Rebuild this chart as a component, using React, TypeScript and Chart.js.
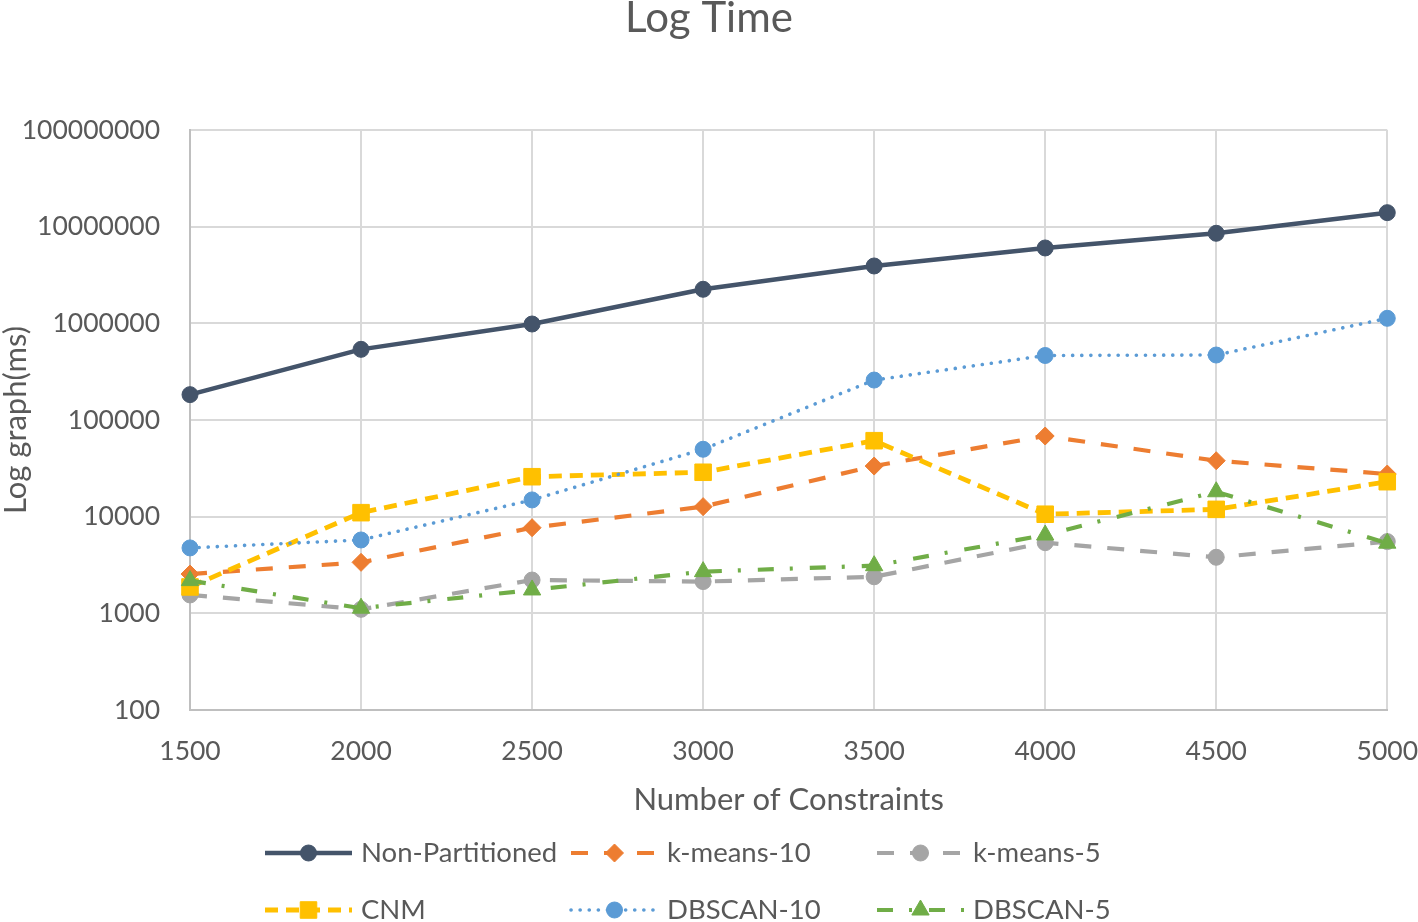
import React, { useEffect, useRef } from 'react';
import { Chart, registerables } from 'chart.js';

Chart.register(...registerables);

// ---- Data ----
const categories = ['1500', '2000', '2500', '3000', '3500', '4000', '4500', '5000'];
const nonPartitioned = [183000, 538000, 984000, 2250000, 3920000, 6020000, 8540000, 13960000];
const kMeans10 = [2550, 3370, 7690, 12700, 33400, 68300, 37900, 27600];
const kMeans5 = [1550, 1100, 2210, 2130, 2390, 5380, 3800, 5520];
const cnm = [1875, 11000, 25900, 28800, 61100, 10600, 11900, 23000];
const dbscan10 = [4750, 5740, 14900, 49800, 259000, 465000, 470000, 1127000];
const dbscan5 = [2180, 1130, 1745, 2700, 3110, 6460, 18100, 5320];
const yTicks = [100, 1000, 10000, 100000, 1000000, 10000000, 100000000];

const seriesNames = ['Non-Partitioned', 'k-means-10', 'k-means-5', 'CNM', 'DBSCAN-10', 'DBSCAN-5'];
const seriesData = [nonPartitioned, kMeans10, kMeans5, cnm, dbscan10, dbscan5];

const FONT = 'Lato, "Open Sans", sans-serif';
const TEXT = '#595959';

type Style = {
  color: string;
  width: number;
  dash: number[];
  cap: CanvasLineCap;
  point: string;
  radius: number;
};

const styles: Style[] = [
  { color: '#44546A', width: 4.5, dash: [], cap: 'butt', point: 'circle', radius: 8.5 },
  { color: '#ED7D31', width: 4.2, dash: [17, 16], cap: 'butt', point: 'rectRot', radius: 9.5 },
  { color: '#A5A5A5', width: 4.2, dash: [17, 16], cap: 'butt', point: 'circle', radius: 8.5 },
  { color: '#FFC000', width: 4.8, dash: [13, 8], cap: 'butt', point: 'rect', radius: 12.2 },
  { color: '#5B9BD5', width: 3.6, dash: [0.1, 9], cap: 'round', point: 'circle', radius: 8.5 },
  { color: '#70AD47', width: 4.2, dash: [16, 16, 3, 17], cap: 'butt', point: 'triangle', radius: 10.5 },
];

function drawMarker(ctx: CanvasRenderingContext2D, kind: string, x: number, y: number, r: number, color: string) {
  ctx.save();
  ctx.setLineDash([]);
  ctx.fillStyle = color;
  ctx.strokeStyle = color;
  ctx.lineWidth = 1;
  ctx.beginPath();
  if (kind === 'circle') {
    ctx.arc(x, y, r, 0, Math.PI * 2);
  } else if (kind === 'rect') {
    const s = Math.SQRT1_2 * r;
    ctx.rect(x - s, y - s, 2 * s, 2 * s);
  } else if (kind === 'rectRot') {
    ctx.moveTo(x - r, y);
    ctx.lineTo(x, y - r);
    ctx.lineTo(x + r, y);
    ctx.lineTo(x, y + r);
    ctx.closePath();
  } else if (kind === 'triangle') {
    let a = 0;
    ctx.moveTo(x + Math.sin(a) * r, y - Math.cos(a) * r);
    a += (2 * Math.PI) / 3;
    ctx.lineTo(x + Math.sin(a) * r, y - Math.cos(a) * r);
    a += (2 * Math.PI) / 3;
    ctx.lineTo(x + Math.sin(a) * r, y - Math.cos(a) * r);
    ctx.closePath();
  }
  ctx.fill();
  ctx.stroke();
  ctx.restore();
}

const legendCols = [265, 571, 877];
const legendRows = [853, 910];
const legendSample = 87;

const legendPlugin = {
  id: 'customLegend',
  afterDraw(chart: any) {
    const ctx: CanvasRenderingContext2D = chart.ctx;
    chart.data.datasets.forEach((ds: any, i: number) => {
      const st = styles[i];
      const x0 = legendCols[i % 3];
      const y = legendRows[Math.floor(i / 3)];
      ctx.save();
      ctx.strokeStyle = st.color;
      ctx.lineWidth = st.width;
      ctx.lineCap = st.cap;
      ctx.setLineDash(st.dash);
      ctx.beginPath();
      ctx.moveTo(x0, y);
      ctx.lineTo(x0 + legendSample, y);
      ctx.stroke();
      ctx.restore();
      drawMarker(ctx, st.point, x0 + legendSample / 2, y, st.radius - 0.5, st.color);
      ctx.save();
      ctx.fillStyle = TEXT;
      ctx.font = `27.5px ${FONT}`;
      ctx.textBaseline = 'middle';
      ctx.textAlign = 'left';
      ctx.fillText(ds.label, x0 + legendSample + 9, y);
      ctx.restore();
    });
  },
};

export default function App() {
  const ref = useRef<HTMLCanvasElement>(null);

  useEffect(() => {
    const datasets = seriesNames.map((name, i) => {
      const st = styles[i];
      return {
        label: name,
        data: seriesData[i],
        borderColor: st.color,
        backgroundColor: st.color,
        borderWidth: st.width,
        borderDash: st.dash,
        borderCapStyle: st.cap,
        borderJoinStyle: 'round' as CanvasLineJoin,
        pointStyle: st.point,
        pointRadius: st.radius - 0.5,
        pointBorderWidth: 1,
        pointBackgroundColor: st.color,
        pointBorderColor: st.color,
        tension: 0,
        fill: false,
        order: seriesNames.length - i,
      };
    });

    const chart = new Chart(ref.current!, {
      type: 'line',
      data: { labels: categories, datasets },
      plugins: [legendPlugin],
      options: {
        animation: false,
        responsive: true,
        maintainAspectRatio: false,
        layout: { padding: { left: 0, right: 0, top: 0, bottom: 102 } },
        plugins: {
          legend: { display: false },
          tooltip: { enabled: false },
          title: {
            display: true,
            text: 'Log Time',
            color: TEXT,
            font: { family: FONT, size: 42, weight: 'normal', lineHeight: 0.9 },
            padding: { top: 0, bottom: 92.2 },
          },
        },
        scales: {
          x: {
            type: 'category',
            offset: false,
            afterFit: (scale: any) => {
              scale.height = 110;
            },
            grid: {
              color: '#d9d9d9',
              lineWidth: 2,
              drawTicks: true,
              tickLength: 26,
              tickColor: 'rgba(0,0,0,0)',
            },
            border: { display: true, color: '#bfbfbf', width: 2 },
            ticks: {
              color: TEXT,
              font: { family: FONT, size: 26.5 },
              padding: 0,
              maxRotation: 0,
              autoSkip: false,
            },
            title: {
              display: true,
              text: 'Number of Constraints',
              color: TEXT,
              font: { family: FONT, size: 31 },
              padding: { top: 0, bottom: 1 },
            },
          },
          y: {
            type: 'logarithmic',
            min: 100,
            max: 100000000,
            afterFit: (scale: any) => {
              scale.width = 190;
            },
            afterBuildTicks: (scale: any) => {
              scale.ticks = yTicks.map((v) => ({ value: v }));
            },
            grid: { color: '#d9d9d9', lineWidth: 2, drawTicks: false },
            border: { display: true, color: '#bfbfbf', width: 2 },
            ticks: {
              color: TEXT,
              font: { family: FONT, size: 26.5 },
              padding: 30,
              callback: (v: any) => String(v),
            },
            title: {
              display: true,
              text: 'Log graph(ms)',
              color: TEXT,
              font: { family: FONT, size: 31, lineHeight: 1 },
              padding: { top: 0, bottom: 0 },
            },
          },
        },
      } as any,
    });
    return () => chart.destroy();
  }, []);

  return (
    <div style={{ position: 'fixed', left: 0, top: 0, width: 1418, height: 922, background: '#fff' }}>
      <canvas ref={ref} />
    </div>
  );
}
